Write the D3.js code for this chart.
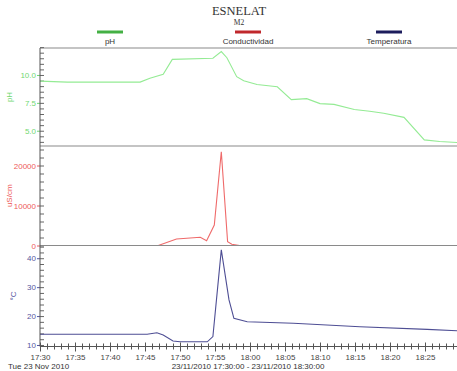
<html>
<head>
<meta charset="utf-8">
<style>
body { margin: 0; background: #fff; }
text { font-family: "Liberation Sans", Arial, sans-serif; }
</style>
</head>
<body>
<div id="chart"></div>
<script src="https://cdn.jsdelivr.net/npm/d3@7"></script>
<script>
// values
var phTimes = ["17:30:00","17:33:54","17:44:18","17:45:42","17:47:36","17:48:54","17:54:42","17:55:54","17:56:42","17:58:06","17:59:06","18:01:00","18:03:54","18:05:54","18:08:06","18:10:00","18:12:00","18:14:54","18:17:06","18:19:06","18:22:00","18:24:54","18:27:06","18:29:36"];
var phValues = [9.45, 9.36, 9.36, 9.70, 10.06, 11.4, 11.5, 12.1, 11.55, 9.85, 9.48, 9.15, 8.94, 7.79, 7.88, 7.43, 7.36, 6.9, 6.75, 6.57, 6.2, 4.18, 4.03, 3.94];

var condTimes = ["17:30:00","17:46:54","17:49:30","17:52:54","17:53:48","17:54:54","17:55:54","17:56:48","17:57:24","17:58:30","18:30:00"];
var condValues = [0, 0, 1625, 2050, 1200, 5100, 23450, 950, 300, 0, 0];

var tempTimes = ["17:30:00","17:45:18","17:46:42","17:47:36","17:49:00","17:50:00","17:53:54","17:54:42","17:55:54","17:57:00","17:57:42","17:59:36","18:06:12","18:15:42","18:25:18","18:29:36"];
var tempValues = [13.7, 13.7, 14.25, 13.46, 11.4, 11.1, 11.1, 12.9, 42.9, 25.6, 19.2, 18.06, 17.5, 16.3, 15.4, 14.9];

var seriesNames = ["pH", "Conductividad", "Temperatura"];
var phTicks = [5.0, 7.5, 10.0];
var condTicks = [0, 10000, 20000];
var tempTicks = [10, 20, 30, 40];

var W = 457, H = 371;
var svg = d3.select("#chart").append("svg").attr("width", W).attr("height", H);
var parse = d3.timeParse("%Y-%m-%d %H:%M:%S");
function t(s) { return parse("2010-11-23 " + s); }

var left = 40;
var x = d3.scaleTime().domain([t("17:30:00"), t("18:30:00")]).range([left, 460]);

var panels = [
    {name: "pH", times: phTimes, vals: phValues, top: 48, bottom: 146, domain: [3.63, 12.42],
     ticks: phTicks, minor: d3.range(4, 12.6, 0.5), fmt: d3.format(".1f"),
     line: "#94eb94", label: "#72d872", legend: "#44b044", title: "pH", tx: 12},
    {name: "Conductividad", times: condTimes, vals: condValues, top: 146, bottom: 245.5, domain: [0, 24875],
     ticks: condTicks, minor: d3.range(0, 24001, 2000), fmt: d3.format("d"),
     line: "#ef6a6a", label: "#ee5a5a", legend: "#c0282c", title: "uS/cm", tx: 12},
    {name: "Temperatura", times: tempTimes, vals: tempValues, top: 245.5, bottom: 346.5, domain: [9.48, 44.4],
     ticks: tempTicks, minor: d3.range(10, 44.1, 2), fmt: d3.format("d"),
     line: "#4e4e94", label: "#5656a0", legend: "#1c1c5c", title: "\u00b0C", tx: 16}
];

svg.append("defs").append("clipPath").attr("id", "clip")
    .append("rect").attr("x", left).attr("y", 40).attr("width", W - left).attr("height", 310);

// frame lines
svg.append("line").attr("x1", left).attr("x2", W).attr("y1", 48).attr("y2", 48)
    .attr("stroke", "#8a8a8a").attr("stroke-width", 1.2);

panels.forEach(function (p, i) {
    var y = d3.scaleLinear().domain(p.domain).range([p.bottom, p.top]);

    if (i > 0) {
        svg.append("line").attr("x1", left).attr("x2", W).attr("y1", p.top).attr("y2", p.top)
            .attr("stroke", "#8a8a8a").attr("stroke-width", 1.2);
    }

    // minor ticks to the right of the axis
    var minor = svg.append("g").attr("transform", "translate(" + left + ",0)")
        .call(d3.axisRight(y).tickValues(p.minor).tickSize(4).tickFormat(""));
    minor.select(".domain").remove();
    minor.selectAll("line").attr("stroke", "#666");

    var major = svg.append("g").attr("transform", "translate(" + left + ",0)")
        .call(d3.axisLeft(y).tickValues(p.ticks).tickSize(3).tickPadding(1).tickFormat(p.fmt));
    major.select(".domain").remove();
    major.selectAll("line").attr("stroke", p.label);
    major.selectAll("text").attr("fill", p.label).style("font-size", "8px")
        .style("font-family", "'Liberation Sans', Arial, sans-serif");

    svg.append("text")
        .attr("transform", "translate(" + p.tx + "," + ((p.top + p.bottom) / 2) + ") rotate(-90)")
        .attr("text-anchor", "middle").attr("fill", p.label).style("font-size", "8px")
        .text(p.title);

    var data = p.times.map(function (s, k) { return {t: t(s), v: p.vals[k]}; });
    svg.append("path").datum(data)
        .attr("clip-path", "url(#clip)")
        .attr("fill", "none").attr("stroke", p.line).attr("stroke-width", 1.1)
        .attr("d", d3.line().x(function (d) { return x(d.t); }).y(function (d) { return y(d.v); }));
});

// left axis line
svg.append("line").attr("x1", left).attr("x2", left).attr("y1", 48).attr("y2", 346.5)
    .attr("stroke", "#555").attr("stroke-width", 1);

// time axis (the last label, 18:30, falls outside the picture)
var axisY = 346.5;
var xMinor = svg.append("g").attr("transform", "translate(0," + axisY + ")")
    .call(d3.axisBottom(x).ticks(d3.timeMinute.every(1)).tickSize(3).tickFormat(""));
xMinor.selectAll("line").attr("y1", -3).attr("stroke", "#555");
xMinor.select(".domain").attr("stroke", "#555").attr("d", "M" + left + ",0H" + W);

var majorTimes = x.ticks(d3.timeMinute.every(5)).filter(function (d) { return x(d) < W - 5; });
var xMajor = svg.append("g").attr("transform", "translate(0," + axisY + ")")
    .call(d3.axisBottom(x).tickValues(majorTimes).tickSize(5).tickPadding(3)
        .tickFormat(d3.timeFormat("%H:%M")));
xMajor.select(".domain").remove();
xMajor.selectAll("line").attr("y1", -4).attr("stroke", "#555");
xMajor.selectAll("text").attr("fill", "#444").style("font-size", "8px")
    .style("font-family", "'Liberation Sans', Arial, sans-serif");

svg.append("text").attr("x", 8).attr("y", 369).attr("fill", "#333").style("font-size", "8px")
    .text("Tue 23 Nov 2010");
svg.append("text").attr("x", 248).attr("y", 369).attr("text-anchor", "middle").attr("fill", "#333")
    .style("font-size", "8px").text("23/11/2010 17:30:00 - 23/11/2010 18:30:00");

// titles
svg.append("text").attr("x", 239).attr("y", 15).attr("text-anchor", "middle").attr("fill", "#333")
    .style("font-family", "'Liberation Serif', 'DejaVu Serif', serif").style("font-size", "12.5px")
    .text("ESNELAT");
svg.append("text").attr("x", 239).attr("y", 25).attr("text-anchor", "middle").attr("fill", "#333")
    .style("font-family", "'Liberation Serif', 'DejaVu Serif', serif").style("font-size", "7.5px")
    .text("M2");

// legend
var legendX = [110, 248, 389];
seriesNames.forEach(function (n, i) {
    svg.append("line").attr("x1", legendX[i] - 13).attr("x2", legendX[i] + 13)
        .attr("y1", 32).attr("y2", 32).attr("stroke", panels[i].legend).attr("stroke-width", 3);
    svg.append("text").attr("x", legendX[i]).attr("y", 44).attr("text-anchor", "middle")
        .attr("fill", "#333").style("font-size", "8px").text(n);
});
</script>
</body>
</html>
